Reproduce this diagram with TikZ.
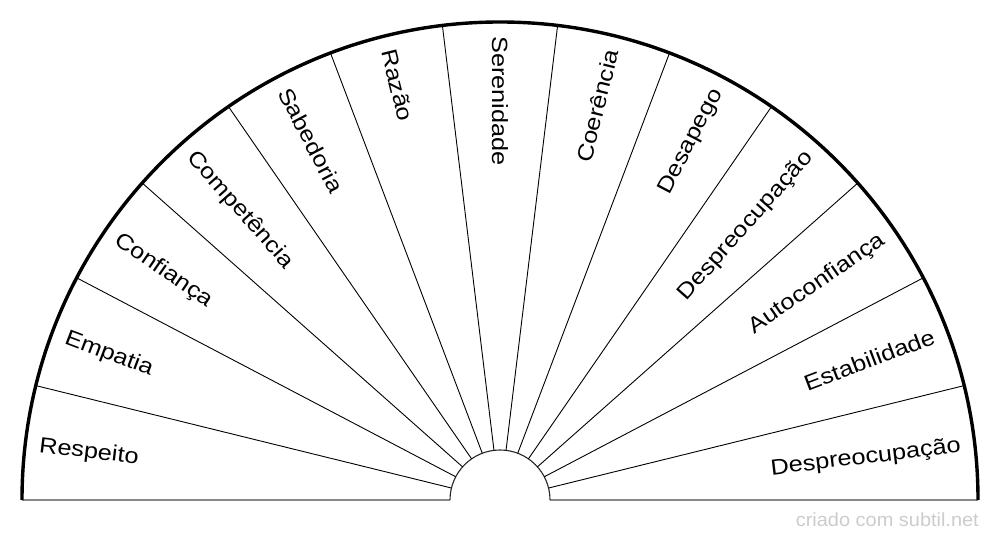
\documentclass[tikz,border=0pt]{standalone}
\usepackage{fontspec}
\newfontfamily\lblfont[FakeStretch=1.15]{Liberation Sans}
\newfontfamily\wmfont[FakeStretch=1.05]{Liberation Sans}
\definecolor{basegray}{HTML}{888888}
\definecolor{wmgray}{HTML}{CCCCCC}
\tikzset{
  lbl/.style={inner sep=0pt, text height=16pt, text depth=0pt,
    font=\lblfont\fontsize{22}{26}\selectfont},
  sepline/.style={draw=black, line width=0.9pt},
  rim/.style={draw=black, line width=3.4pt},
  baseline/.style={draw=basegray, line width=2pt},
  hub/.style={draw=black!85, line width=1.1pt},
  wm/.style={inner sep=0pt, text=wmgray, font=\wmfont\fontsize{19}{22}\selectfont}
}
\begin{document}
\begin{tikzpicture}[x=1pt,y=1pt]
\useasboundingbox (0,0) rectangle (1000,540);
\begin{scope}[shift={(500,40)}]
  \coordinate (O) at (0,0);
  % separator end points
  \foreach \k in {0,...,13} {
    \pgfmathsetmacro{\ang}{180-\k*180/13}
    \coordinate (i\k) at (\ang:50);
    \coordinate (o\k) at (\ang:478);
  }
  % base lines
  \draw[baseline] (o0) -- (i0);
  \draw[baseline] (i13) -- (o13);
  % inner hub arc
  \draw[hub] (i0) arc[start angle=180, end angle=0, radius=50];
  % separators
  \foreach \k in {1,...,12} {
    \draw[sepline] (i\k) -- (o\k);
  }
  % outer rim
  \draw[rim] (o0) arc[start angle=180, end angle=0, radius=478];
  % labels
  \foreach \t [count=\n from 0] in {Respeito,Empatia,Confiança,Competência,Sabedoria,Razão,Serenidade} {
    \pgfmathsetmacro{\ang}{180-(\n+0.5)*180/13}
    \pgfmathsetmacro{\rot}{\ang-180}
    \node[lbl, anchor=west, rotate=\rot] (l\n) at (\ang:464) {\t};
  }
  \foreach \t [count=\n from 7] in {Coerência,Desapego,Despreocupação,Autoconfiança,Estabilidade,Despreocupação} {
    \pgfmathsetmacro{\ang}{180-(\n+0.5)*180/13}
    \node[lbl, anchor=east, rotate=\ang] (l\n) at (\ang:464) {\t};
  }
\end{scope}
\node[wm, anchor=base east] (wm) at (979,13) {criado com subtil.net};
\end{tikzpicture}
\end{document}
